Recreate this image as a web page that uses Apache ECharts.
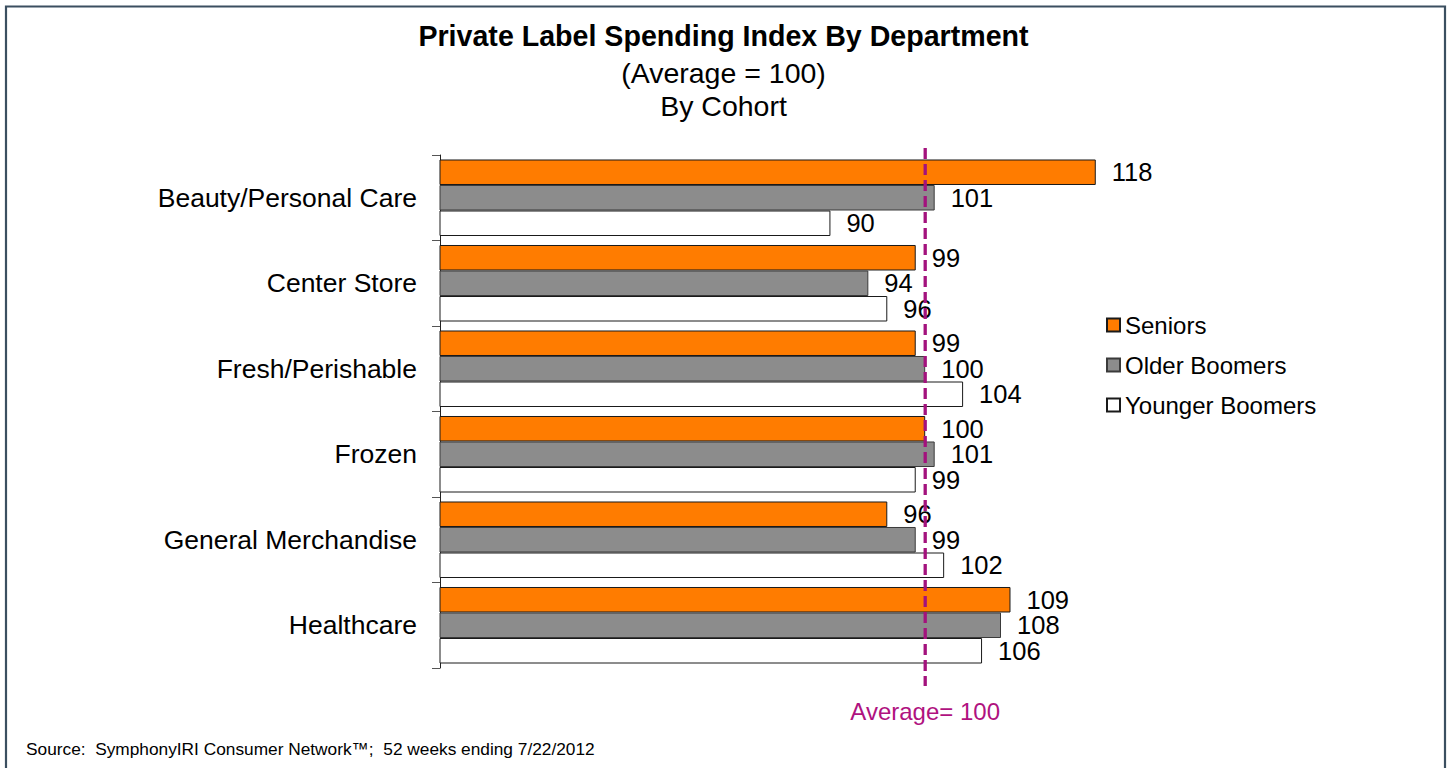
<!DOCTYPE html>
<html>
<head>
<meta charset="utf-8">
<script src="https://cdn.jsdelivr.net/npm/echarts@6/dist/echarts.min.js"></script>
<style>
html,body{margin:0;padding:0;background:#fff;}
#main{width:1447px;height:768px;}
</style>
</head>
<body>
<div id="main"></div>
<script>
var categories = ['Beauty/Personal Care','Center Store','Fresh/Perishable','Frozen','General Merchandise','Healthcare'];
var seriesNames = ['Seniors','Older Boomers','Younger Boomers'];
var seniors = [118, 99, 99, 100, 96, 109];
var olderBoomers = [101, 94, 100, 101, 99, 108];
var youngerBoomers = [90, 96, 104, 99, 102, 106];
var averageValue = 100;
var titleText = 'Private Label Spending Index By Department';
var subtitle1 = '(Average = 100)';
var subtitle2 = 'By Cohort';
var averageLabel = 'Average= 100';
var sourceText = 'Source:  SymphonyIRI Consumer Network\u2122;  52 weeks ending 7/22/2012';

var FONT = '"Liberation Sans", Arial, Helvetica, sans-serif';
var chart = echarts.init(document.getElementById('main'), null, {renderer: 'svg'});

function barSeries(name, data, color, border) {
  return {
    name: name,
    type: 'bar',
    data: data,
    barGap: '0%',
    barCategoryGap: '10.5%',
    itemStyle: {color: color, borderColor: border, borderWidth: 1},
    label: {
      show: true, position: 'right', distance: 16,
      color: '#000', fontSize: 25.5, lineHeight: 23, fontFamily: FONT
    },
    emphasis: {disabled: true}
  };
}

var option = {
  animation: false,
  textStyle: {fontFamily: FONT},
  title: [
    {text: titleText, left: 'center', top: 16,
     textStyle: {fontSize: 28.6, fontWeight: 'bold', color: '#000', fontFamily: FONT}},
    {text: subtitle1, left: 'center', top: 53,
     textStyle: {fontSize: 28.5, fontWeight: 'normal', color: '#000', fontFamily: FONT}},
    {text: subtitle2, left: 'center', top: 86,
     textStyle: {fontSize: 28.5, fontWeight: 'normal', color: '#000', fontFamily: FONT}},
    {text: sourceText, left: 21, top: 735,
     textStyle: {fontSize: 17.3, fontWeight: 'normal', color: '#000', fontFamily: FONT}}
  ],
  legend: {
    orient: 'vertical', left: 1101, top: 308,
    itemWidth: 13, itemHeight: 13, itemGap: 16, icon: 'rect',
    textStyle: {fontSize: 24, color: '#000', fontFamily: FONT},
    data: seriesNames,
    selectedMode: false
  },
  grid: {left: 440, top: 155, height: 513, width: 769.5, containLabel: false},
  xAxis: {
    type: 'value', min: 48.8, max: 130, show: false
  },
  yAxis: {
    type: 'category', data: categories, inverse: true,
    axisLine: {show: true, lineStyle: {color: '#222', width: 1}},
    axisTick: {show: true, length: 8, lineStyle: {color: '#555'}},
    axisLabel: {margin: 23, fontSize: 26.5, color: '#000', fontFamily: FONT}
  },
  series: [
    barSeries(seriesNames[0], seniors, '#FF7C00', '#1a1a1a'),
    barSeries(seriesNames[1], olderBoomers, '#8C8C8C', '#3a3a3a'),
    barSeries(seriesNames[2], youngerBoomers, '#FFFFFF', '#1a1a1a')
  ]
};
chart.setOption(option);

var px = chart.convertToPixel({xAxisIndex: 0}, averageValue);
chart.setOption({
  graphic: [
    {type: 'rect', silent: true, z: 100,
     shape: {x: 6, y: 6.5, width: 1439, height: 800},
     style: {fill: 'none', stroke: '#3B4F60', lineWidth: 2.2}},
    {type: 'line', silent: true, z: 100,
     shape: {x1: px, y1: 148, x2: px, y2: 686},
     style: {stroke: '#A3127D', lineWidth: 3.3, lineDash: [11, 5]}},
    {type: 'text', silent: true, z: 100, x: px, y: 711,
     style: {text: averageLabel, align: 'center', verticalAlign: 'middle',
             fill: '#B0127F', fontSize: 24, fontFamily: FONT}}
  ]
});
</script>
</body>
</html>
